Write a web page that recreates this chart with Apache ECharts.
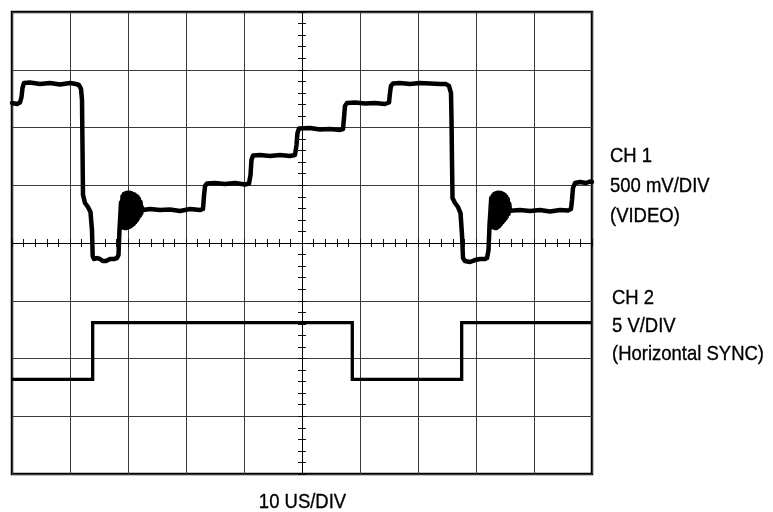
<!DOCTYPE html>
<html>
<head>
<meta charset="utf-8">
<script src="https://cdn.jsdelivr.net/npm/echarts@6/dist/echarts.min.js"></script>
<style>
  html, body { margin: 0; padding: 0; background: #fff; }
  #chart { width: 773px; height: 512px; }
</style>
</head>
<body>
<div id="chart"></div>
<script>
// Screen: 10 horizontal divisions of 10 us (time relative to centre), 8 vertical divisions.
const timeMin = -50, timeMax = 50, timeStep = 10;
const divMin = -4, divMax = 4, divStep = 1;

// CH 1 (video, 500 mV/DIV): time in us, level in screen divisions
const ch1Time = [
  -50, -49.14, -48.62, -48.36, -48.19, -47.93, -46.9, -45.17, -43.45, -41.72, -40, -38.97, -38.45, -38.1,
  -37.93, -37.84, -37.76, -37.41, -36.9, -36.47, -36.21, -36.09, -35.86, -35.34, -34.83, -34.31, -33.79,
  -33.1, -32.41, -31.9, -31.64, -31.47, -31.29,
  // colour burst after the sync tip
  -31.21, -31.08, -30.95, -30.82, -30.69, -30.56, -30.43, -30.3, -30.17, -30.04, -29.91, -29.78, -29.66,
  -29.53, -29.4, -29.27, -29.14, -29.01, -28.88, -28.75, -28.62, -28.49, -28.36, -28.23, -28.1, -27.97,
  -27.84, -27.72, -27.59, -27.41,
  // black level, then the grey-scale staircase
  -26.21, -24.48, -22.76, -21.03, -19.31, -17.59, -17.07,
  -16.9, -16.72, -16.38, -15, -13.28, -11.55, -9.83, -9.14,
  -8.88, -8.71, -8.45, -7.24, -5.52, -3.79, -2.07, -1.21,
  -0.95, -0.78, -0.52, 1.38, 3.1, 4.83, 6.55, 7.07,
  7.24, 7.41, 7.76, 9.14, 10.86, 12.59, 14.31, 15,
  15.17, 15.34, 15.69, 16.9, 18.62, 20.34, 22.07, 23.79, 24.83, 25.34,
  // next line: sync tip
  25.69, 25.78, 25.86, 25.95, 26.38, 26.9, 27.33, 27.59, 27.76, 28.1, 28.97, 29.83, 30.69, 31.55, 31.9,
  32.16, 32.33, 32.5,
  // colour burst
  32.63, 32.76, 32.89, 33.02, 33.15, 33.28, 33.41, 33.53, 33.66, 33.79, 33.92, 34.05, 34.18, 34.31,
  34.44, 34.57, 34.7, 34.83, 34.96, 35.09, 35.22, 35.34, 35.47, 35.6, 35.73, 35.86,
  37.59, 39.31, 41.03, 42.76, 44.48, 45.86, 46.38,
  46.55, 46.72, 47.07, 47.93, 48.97, 49.66, 50
];
const ch1Div = [
  2.424, 2.407, 2.433, 2.528, 2.684, 2.771, 2.779, 2.753, 2.771, 2.745, 2.771, 2.753, 2.736, 2.667,
  2.476, 1.61, 0.831, 0.693, 0.623, 0.537, 0.225, -0.225, -0.277, -0.26, -0.277, -0.312, -0.312,
  -0.277, -0.277, -0.26, -0.208, 0.225, 0.537,
  0.70, 0.31, 0.81, 0.27, 0.85, 0.26, 0.86, 0.26, 0.87, 0.27, 0.87, 0.28, 0.87,
  0.29, 0.86, 0.31, 0.85, 0.33, 0.84, 0.36, 0.82, 0.39, 0.80, 0.43, 0.76, 0.47,
  0.71, 0.51, 0.62, 0.571,
  0.589, 0.571, 0.58, 0.554, 0.589, 0.571, 0.589,
  0.814, 0.987, 1.03, 1.039, 1.022, 1.039, 1.013, 1.03,
  1.177, 1.437, 1.515, 1.524, 1.506, 1.524, 1.506, 1.524,
  1.697, 1.905, 1.983, 1.991, 1.965, 1.974, 1.957, 1.974,
  2.165, 2.372, 2.424, 2.433, 2.416, 2.424, 2.407, 2.433,
  2.597, 2.719, 2.762, 2.771, 2.753, 2.771, 2.762, 2.753, 2.753, 2.719,
  2.597, 2.13, 1.437, 0.779, 0.693, 0.623, 0.519, 0.139, -0.26, -0.312, -0.329, -0.295, -0.277, -0.277, -0.26,
  -0.121, 0.312, 0.571,
  0.78, 0.30, 0.82, 0.27, 0.85, 0.26, 0.86, 0.26, 0.87, 0.28, 0.87, 0.30, 0.87, 0.33,
  0.86, 0.36, 0.85, 0.39, 0.83, 0.42, 0.80, 0.46, 0.76, 0.50, 0.68, 0.56,
  0.571, 0.554, 0.571, 0.545, 0.571, 0.563, 0.589,
  0.745, 0.952, 1.039, 1.056, 1.039, 1.065, 1.056
];

// CH 2 (horizontal sync, 5 V/DIV)
const ch2Time = [-50, -36.09, -36.09, 8.67, 8.67, 27.53, 27.53, 50];
const ch2Div = [-2.36, -2.36, -1.38, -1.38, -2.36, -2.36, -1.38, -1.38];

// Side and bottom captions
const ch1Caption = ['CH 1', '500 mV/DIV', '(VIDEO)'];
const ch2Caption = ['CH 2', '5 V/DIV', '(Horizontal SYNC)'];
const timebaseCaption = '10 US/DIV';

const pairs = (xs, ys) => xs.map((x, i) => [x, ys[i]]);

const FONT = '"Liberation Sans", Arial, sans-serif';
const gridLineColor = '#3a3a3a';

function centreXAxis(inside, withGrid) {
  return {
    type: 'value', position: 'bottom', min: timeMin, max: timeMax, interval: timeStep,
    axisLine: { show: true, onZero: true, onZeroAxisIndex: 0, lineStyle: { color: '#000', width: 1 } },
    axisTick: { show: true, inside: inside, length: 4, lineStyle: { color: '#111', width: 1 } },
    minorTick: { show: true, splitNumber: 5, length: 4, lineStyle: { color: '#111', width: 1 } },
    axisLabel: { show: false },
    splitLine: { show: withGrid, lineStyle: { color: gridLineColor, width: 1 } },
    minorSplitLine: { show: false }
  };
}
function centreYAxis(inside, withGrid) {
  return {
    type: 'value', position: 'left', min: divMin, max: divMax, interval: divStep,
    axisLine: { show: true, onZero: true, onZeroAxisIndex: 0, lineStyle: { color: '#000', width: 1 } },
    axisTick: { show: true, inside: inside, length: 4, lineStyle: { color: '#111', width: 1 } },
    minorTick: { show: true, splitNumber: 5, length: 4, lineStyle: { color: '#111', width: 1 } },
    axisLabel: { show: false },
    splitLine: { show: withGrid, lineStyle: { color: gridLineColor, width: 1 } },
    minorSplitLine: { show: false }
  };
}

const captionStyle = {
  fill: '#000', fontSize: 21, fontFamily: FONT, verticalAlign: 'middle',
  stroke: '#000', lineWidth: 0.35
};

function captionBlock(lines, x, yFirst, step) {
  return lines.map((t, i) => ({
    type: 'text', x: x, y: yFirst + i * step, scaleX: 0.88,
    style: Object.assign({ text: t, align: 'left' }, captionStyle)
  }));
}

const chart = echarts.init(document.getElementById('chart'), null, { renderer: 'canvas' });
chart.setOption({
  animation: false,
  backgroundColor: '#fff',
  grid: {
    left: 12, top: 12, width: 580, height: 462,
    show: true, borderColor: '#000', borderWidth: 2.5, backgroundColor: 'transparent'
  },
  xAxis: [centreXAxis(false, true), centreXAxis(true, false)],
  yAxis: [centreYAxis(false, true), centreYAxis(true, false)],
  series: [
    {
      name: 'CH 1', type: 'line', xAxisIndex: 0, yAxisIndex: 0,
      data: pairs(ch1Time, ch1Div), showSymbol: false, clip: false, z: 5,
      lineStyle: { color: '#000', width: 4.5, cap: 'round', join: 'round' }
    },
    {
      name: 'CH 2', type: 'line', xAxisIndex: 0, yAxisIndex: 0,
      data: pairs(ch2Time, ch2Div), showSymbol: false, clip: false, z: 5,
      lineStyle: { color: '#000', width: 3.3, cap: 'butt', join: 'miter' }
    }
  ],
  graphic: [
    ...captionBlock(ch1Caption, 610, 156, 30),
    ...captionBlock(ch2Caption, 612, 298, 28),
    {
      type: 'text', x: 302.5, y: 502.5, scaleX: 0.88,
      style: Object.assign({ text: timebaseCaption, align: 'center' }, captionStyle)
    }
  ]
});
</script>
</body>
</html>
